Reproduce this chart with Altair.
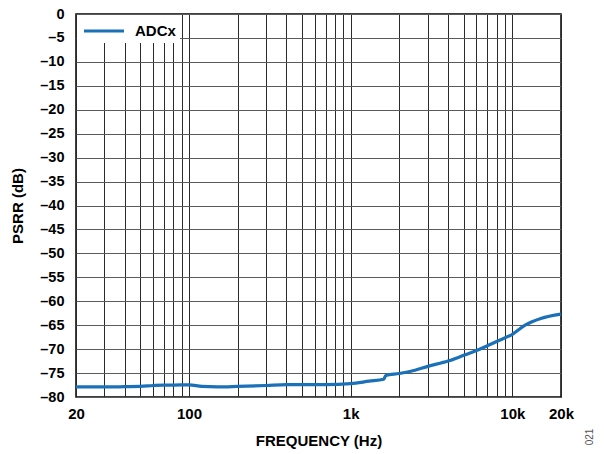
import altair as alt
import pandas as pd

freq = [20, 30, 40, 50, 60, 70, 80, 100, 120, 150, 200, 300, 400, 500, 700,
        1000, 1300, 1600, 1650, 2000, 2500, 3000, 4000, 5000, 6000, 7000, 8000,
        10000, 12000, 15000, 20000]
psrr = [-77.9, -77.9, -77.85, -77.8, -77.6, -77.5, -77.5, -77.45, -77.8, -77.9,
        -77.8, -77.6, -77.4, -77.4, -77.4, -77.2, -76.7, -76.3, -75.5, -75.1,
        -74.4, -73.6, -72.5, -71.3, -70.3, -69.3, -68.4, -66.9, -65.0, -63.6, -62.7]
series = ["ADCx"] * len(freq)

x_grid = [20, 30, 40, 50, 60, 70, 80, 90, 100, 200, 300, 400, 500, 600, 700, 800, 900,
          1000, 2000, 3000, 4000, 5000, 6000, 7000, 8000, 9000, 10000, 20000]
y_ticks = list(range(-80, 1, 5))

df = pd.DataFrame({"freq": freq, "psrr": psrr, "series": series})

FONT = "Liberation Sans"
BLUE = "#1b71b8"

line = alt.Chart(df).mark_line(strokeWidth=3.2, interpolate="monotone").encode(
    x=alt.X("freq:Q",
            scale=alt.Scale(type="log", domain=[20, 20000], nice=False),
            axis=alt.Axis(values=x_grid, grid=True, gridColor="#2a2a2a", gridWidth=1,
                          ticks=False, tickSize=0, domain=False,
                          labelExpr="datum.value==20?'20':datum.value==100?'100':datum.value==1000?'1k':datum.value==10000?'10k':datum.value==20000?'20k':''",
                          labelFont=FONT, labelFontSize=15, labelFontWeight="bold",
                          labelColor="black", labelPadding=9, labelFlush=False,
                          labelOverlap=False,
                          title="FREQUENCY (Hz)", titleFont=FONT, titleFontSize=15,
                          titleFontWeight="bold", titleColor="black", titleY=36)),
    y=alt.Y("psrr:Q",
            scale=alt.Scale(domain=[-80, 0], nice=False),
            axis=alt.Axis(values=y_ticks, grid=True, gridColor="#5a5a5a", gridWidth=1,
                          ticks=False, tickSize=0, domain=False,
                          labelExpr="datum.value<0?'\u2013'+abs(datum.value):''+datum.value",
                          labelFont=FONT, labelFontSize=14.5, labelFontWeight="bold",
                          labelColor="black", labelPadding=12, labelFlush=False,
                          labelOverlap=False,
                          title="PSRR (dB)", titleFont=FONT, titleFontSize=15,
                          titleFontWeight="bold", titleColor="black", titleX=-51)),
    color=alt.Color("series:N", scale=alt.Scale(range=[BLUE]),
                    legend=alt.Legend(title=None, orient="none", legendX=1, legendY=1,
                                      fillColor="white", padding=4,
                                      symbolType="M-2,0H2", symbolSize=400,
                                      symbolOffset=11,
                                      symbolStrokeWidth=3.2, symbolStrokeColor=BLUE,
                                      symbolFillColor="transparent",
                                      labelFont=FONT, labelFontSize=15,
                                      labelFontWeight="bold", labelColor="black",
                                      labelOffset=19)),
)

note = alt.Chart(pd.DataFrame({"t": ["021"]})).mark_text(
    angle=270, font=FONT, fontSize=10, color="#555555"
).encode(text="t:N", x=alt.value(514), y=alt.value(423))

chart = alt.layer(line, note).properties(
    width=485, height=383,
    autosize=alt.AutoSizeParams(type="none"),
    padding={"left": 68, "top": 6, "right": 35, "bottom": 52},
).configure_view(stroke="black", strokeWidth=1.5)

chart.save("out.html", embed_options={"renderer": "svg", "actions": False})
